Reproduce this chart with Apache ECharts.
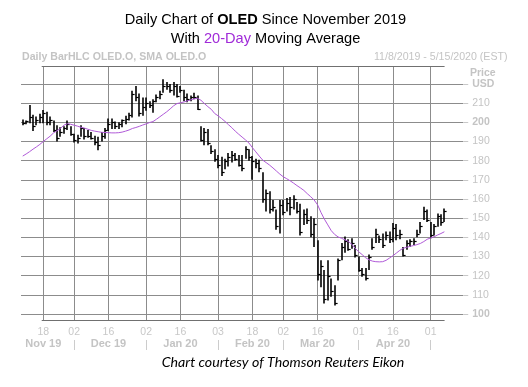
<!DOCTYPE html>
<html><head><meta charset="utf-8">
<script src="https://cdn.jsdelivr.net/npm/echarts@6/dist/echarts.min.js"></script>
<style>html,body{margin:0;padding:0;background:#fff}#c{width:528px;height:387px}</style>
</head><body><div id="c"></div>
<script>
// Trading days shown on the axis (11/8/2019 .. 5/14/2020)
const dates = [
'2019-11-08','2019-11-11','2019-11-12','2019-11-13','2019-11-14','2019-11-15','2019-11-18','2019-11-19','2019-11-20','2019-11-21','2019-11-22','2019-11-25','2019-11-26','2019-11-27','2019-11-29',
'2019-12-02','2019-12-03','2019-12-04','2019-12-05','2019-12-06','2019-12-09','2019-12-10','2019-12-11','2019-12-12','2019-12-13','2019-12-16','2019-12-17','2019-12-18','2019-12-19','2019-12-20','2019-12-23','2019-12-24','2019-12-26','2019-12-27','2019-12-30','2019-12-31',
'2020-01-02','2020-01-03','2020-01-06','2020-01-07','2020-01-08','2020-01-09','2020-01-10','2020-01-13','2020-01-14','2020-01-15','2020-01-16','2020-01-17','2020-01-21','2020-01-22','2020-01-23','2020-01-24','2020-01-27','2020-01-28','2020-01-29','2020-01-30','2020-01-31',
'2020-02-03','2020-02-04','2020-02-05','2020-02-06','2020-02-07','2020-02-10','2020-02-11','2020-02-12','2020-02-13','2020-02-14','2020-02-18','2020-02-19','2020-02-20','2020-02-21','2020-02-24','2020-02-25','2020-02-26','2020-02-27','2020-02-28',
'2020-03-02','2020-03-03','2020-03-04','2020-03-05','2020-03-06','2020-03-09','2020-03-10','2020-03-11','2020-03-12','2020-03-13','2020-03-16','2020-03-17','2020-03-18','2020-03-19','2020-03-20','2020-03-23','2020-03-24','2020-03-25','2020-03-26','2020-03-27','2020-03-30','2020-03-31',
'2020-04-01','2020-04-02','2020-04-03','2020-04-06','2020-04-07','2020-04-08','2020-04-09','2020-04-13','2020-04-14','2020-04-15','2020-04-16','2020-04-17','2020-04-20','2020-04-21','2020-04-22','2020-04-23','2020-04-24','2020-04-27','2020-04-28','2020-04-29','2020-04-30',
'2020-05-01','2020-05-04','2020-05-05','2020-05-06','2020-05-07','2020-05-08','2020-05-11','2020-05-12','2020-05-13','2020-05-14'
];
const highs = [
201.5,201,209,204,203,204.5,
206.5,205.5,203,201,198.5,197.5,198,201,198,194,193.5,198.5,197,196,195,193,192.5,195,197,
202,202,200.5,200,201.5,203.5,205,216.5,219,215,213,213,211,212,214.5,216.5,222.5,221,220,221,220,
219,217,215,214,215.5,214,198,197,196.5,188,186,183,182,181,184,185,184,183,183,187.5,186,
182.5,181,180.5,174,165,164,159.5,154.5,159.5,159.5,160.5,161,162,158.5,157.5,154.5,155,151,150,
138.5,128,123,128,118.5,115,129,137,140.5,139,139.5,136,130,124,124,131,139.5,144.5,141,142,143,143,
147.5,147,144,135,138.5,139,139.5,144,148,156,154.5,148,147,152.5,152,155
];
const lows = [
198.5,199,199.5,195.5,198.5,199.5,
199.5,198.5,198.5,195,190,192.5,194,196,193,189.5,189,192.5,191,192,191,188,185.5,190,191.5,
195.5,196.5,196.5,196.5,197.5,199,201,202.5,211,203,203.5,206,207.5,205,210.5,212,215.5,217,215.5,214,213,
215.5,211,210.5,211,212,206.5,190,188,188,183.5,179.5,176,172,175.5,177,179,180,177,174.5,181,180,
170,176,174,158,153.5,152.5,153.5,144,142,151.5,153.5,151.5,154.5,152.5,141,146.5,147,140,135,
117.5,114,105.5,107,109,104.5,117.5,128,132,133,134,129.5,122,119.5,117.5,123,133.5,137,137,134.5,138.5,137,
137.5,138.5,139,130,133.5,135,136,140,142,149,148,139.5,141,145.5,146,148
];
const closes = [
199.5,200.5,203,198,201,203,
205,200,201,196,192,195,197,199,194,191,192,197,193,193,192,190,188,193,196,
199,200,198,199,201,202,204,215,213,205,208,210,209,211,213,215,219,219,217,219,214,
217,213,212,213,213,207,191,195,189,185,181,178,174,180,182,183,181,178,176,186,182,
180,179,176,160,163,155,156,146,157,153,158,156,160,154,143,152,149,142,147,
121,125,108,120,112,106,128,135,138,134,137,131,123,121,119,130,135,142,139,136,141,139,
145,141,142,131,137,138,138,142,146,154,149,141,146,151,148,154
];
const sma20 = [
182.4,183.5,184.7,186,187.2,188.5,
190,191.4,192.8,194.5,195.6,196.8,198.5,199.3,199,198.5,198,197.4,197,196.4,195.8,195.4,195.1,194.8,194.7,
194.6,194.5,194.5,194.6,194.9,195.4,196,196.8,197.3,197.9,198.6,199.2,199.9,200.4,201.6,202.9,204.2,205.5,207,208.6,209.8,
210.2,210.6,211.2,211.7,212.3,212.5,211.5,209.8,208.2,206.8,204.6,203.4,202,200.5,198.8,197.2,195.4,193.8,192.3,190.8,189.2,
186.8,184.6,182.4,180.3,179,177.7,176.2,174.6,173,171.6,170.6,169.5,168.3,167,165.8,164.5,162.8,161.2,159.5,
157,153,149.5,146.5,143.5,141.5,140.2,139.5,138.7,137.8,136.4,134.2,132.5,131,129.4,128.3,127.6,127.3,127.2,127.3,128,129.2,
130.4,131.8,133.2,134.3,134.8,135.3,135.7,136.2,136.8,137.8,139,139.7,140.3,141.2,142,142.9
];
const dayTicks = ['2019-11-18','2019-12-02','2019-12-16','2020-01-02','2020-01-16','2020-02-03','2020-02-18','2020-03-02','2020-03-16','2020-04-01','2020-04-16','2020-05-01'];
const monthNames = {'2019-11-18':'Nov 19','2019-12-16':'Dec 19','2020-01-16':'Jan 20','2020-02-18':'Feb 20','2020-03-16':'Mar 20','2020-04-16':'Apr 20'};
const monthStarts = ['2019-12-02','2020-01-02','2020-02-03','2020-03-02','2020-04-01','2020-05-01'];

const FONT = 'Liberation Sans';
const GRAY = '#c4c4c4';
const GRID = '#8c8c8c';
const bars = highs.map((h, i) => [i, h, lows[i], closes[i]]);

const chart = echarts.init(document.getElementById('c'), null, {renderer: 'canvas'});
chart.setOption({
  animation: false,
  backgroundColor: '#fff',
  title: [
    {
      text: '{a|Daily Chart of }{b|OLED}{a| Since November 2019}\n{a|With }{c|20-Day}{a| Moving Average}',
      left: 265.5, top: 11, textAlign: 'center', padding: 0,
      textStyle: {
        fontWeight: 'normal',
        rich: {
          a: {fontFamily: FONT, fontSize: 14.6, color: '#000', fontWeight: 'normal', lineHeight: 18.7},
          b: {fontFamily: FONT, fontSize: 14.6, color: '#000', fontWeight: 'bold', lineHeight: 18.7},
          c: {fontFamily: FONT, fontSize: 14.6, color: '#a02ad8', fontWeight: 'normal', lineHeight: 18.7}
        }
      }
    },
    {text: 'Daily BarHLC OLED.O, SMA OLED.O', left: 22, top: 51.5, padding: 0,
     textStyle: {fontFamily: FONT, fontSize: 10.6, fontWeight: 'bold', color: GRAY, lineHeight: 12}},
    {text: '11/8/2019 - 5/15/2020 (EST)', right: 20.5, top: 51.5, padding: 0,
     textStyle: {fontFamily: FONT, fontSize: 10.6, fontWeight: 'normal', color: GRAY, lineHeight: 12}},
    {text: 'Price', left: 470, top: 67.5, padding: 0,
     textStyle: {fontFamily: FONT, fontSize: 10.5, fontWeight: 'bold', color: GRAY, lineHeight: 12}},
    {text: 'Chart courtesy of Thomson Reuters Eikon', left: 283, top: 354.5, textAlign: 'center', padding: 0,
     textStyle: {fontFamily: 'Lato', fontStyle: 'italic', fontSize: 14.2, fontWeight: 'normal', color: '#000', lineHeight: 16}}
  ],
  grid: [
    {left: 22.73, right: 66.5, top: 66, bottom: 67},
    {left: 21.02, right: 64.78, top: 84, bottom: 73},
    {left: 42.1, right: 83.8, top: 66, bottom: 66.5},
    {left: 22.73, right: 66.5, top: 66, bottom: 67},
    {left: 22.73, right: 66.5, top: 66, bottom: 47}
  ],
  xAxis: [
    {gridIndex: 0, type: 'category', data: dates, boundaryGap: false, position: 'bottom',
     axisLine: {show: false}, axisTick: {show: false},
     splitLine: {show: true, interval: (i, v) => dayTicks.includes(v), lineStyle: {color: GRID, width: 1}},
     axisLabel: {show: true, hideOverlap: false, interval: (i, v) => dayTicks.includes(v), formatter: v => v.slice(8),
       margin: 6, fontFamily: FONT, fontSize: 10.5, color: '#c8c8c8', lineHeight: 12}},
    {gridIndex: 3, type: 'category', data: dates, boundaryGap: false, position: 'bottom',
     axisLine: {show: false}, axisTick: {show: false}, splitLine: {show: false},
     axisLabel: {show: true, hideOverlap: false,
       interval: (i, v) => (v in monthNames),
       formatter: v => monthNames[v] || '',
       margin: 17.5, lineHeight: 13,
       fontFamily: FONT, fontSize: 11, fontWeight: 'bold', color: GRAY}},
    {gridIndex: 1, type: 'category', data: dates, boundaryGap: true, show: false},
    {gridIndex: 2, type: 'value', min: 0, max: 1, position: 'bottom',
     axisLine: {show: true, onZero: false, lineStyle: {color: '#707070', width: 1}},
     axisTick: {show: false}, axisLabel: {show: false}, splitLine: {show: false}},
    {gridIndex: 2, type: 'value', min: 0, max: 1, position: 'top',
     axisLine: {show: true, onZero: false, lineStyle: {color: '#707070', width: 1}},
     axisTick: {show: false}, axisLabel: {show: false}, splitLine: {show: false}},
    {gridIndex: 4, type: 'category', data: dates, boundaryGap: false, position: 'bottom',
     axisLine: {show: false}, splitLine: {show: false}, axisLabel: {show: false},
     axisTick: {show: true, interval: (i, v) => monthStarts.includes(v), length: 10, inside: false,
       lineStyle: {color: '#cccccc', width: 1}}}
  ],
  yAxis: [
    {gridIndex: 0, type: 'value', min: 0, max: 1, show: false},
    {gridIndex: 1, type: 'value', min: 100, max: 220, interval: 10, position: 'right',
     axisLine: {show: false},
     axisTick: {show: true, length: 5, lineStyle: {color: '#c8c8c8'}},
     splitLine: {show: true, lineStyle: {color: GRID, width: 1}},
     axisLabel: {margin: 9, fontFamily: FONT, fontSize: 10.5, color: GRAY,
       formatter: v => v === 220 ? '{b|USD}' : (v === 200 || v === 100) ? '{b|' + v + '}' : String(v),
       rich: {b: {fontFamily: FONT, fontSize: 10.5, fontWeight: 'bold', color: GRAY}}}},
    {gridIndex: 2, type: 'value', min: 0, max: 1, show: false},
    {gridIndex: 3, type: 'value', min: 0, max: 1, show: false},
    {gridIndex: 4, type: 'value', min: 0, max: 1, show: false}
  ],
  series: [
    {
      type: 'custom', xAxisIndex: 2, yAxisIndex: 1, clip: false, z: 3,
      data: bars,
      encode: {x: 0, y: [1, 2, 3]},
      renderItem: function (params, api) {
        const hi = api.coord([api.value(0), api.value(1)]);
        const lo = api.coord([api.value(0), api.value(2)]);
        const cl = api.coord([api.value(0), api.value(3)]);
        const x = Math.round(hi[0]);
        const st = {stroke: '#000', lineWidth: 1.6};
        return {type: 'group', children: [
          {type: 'line', shape: {x1: x, y1: hi[1], x2: x, y2: lo[1]}, style: st},
          {type: 'line', shape: {x1: x, y1: Math.round(cl[1]) + 0.5, x2: x + 2.6, y2: Math.round(cl[1]) + 0.5}, style: {stroke: '#000', lineWidth: 1.2}}
        ]};
      }
    },
    {
      type: 'line', xAxisIndex: 2, yAxisIndex: 1, data: sma20, z: 4,
      showSymbol: false, symbol: 'none', smooth: false,
      lineStyle: {color: '#b05ad8', width: 1}
    }
  ]
});
</script>
</body></html>
